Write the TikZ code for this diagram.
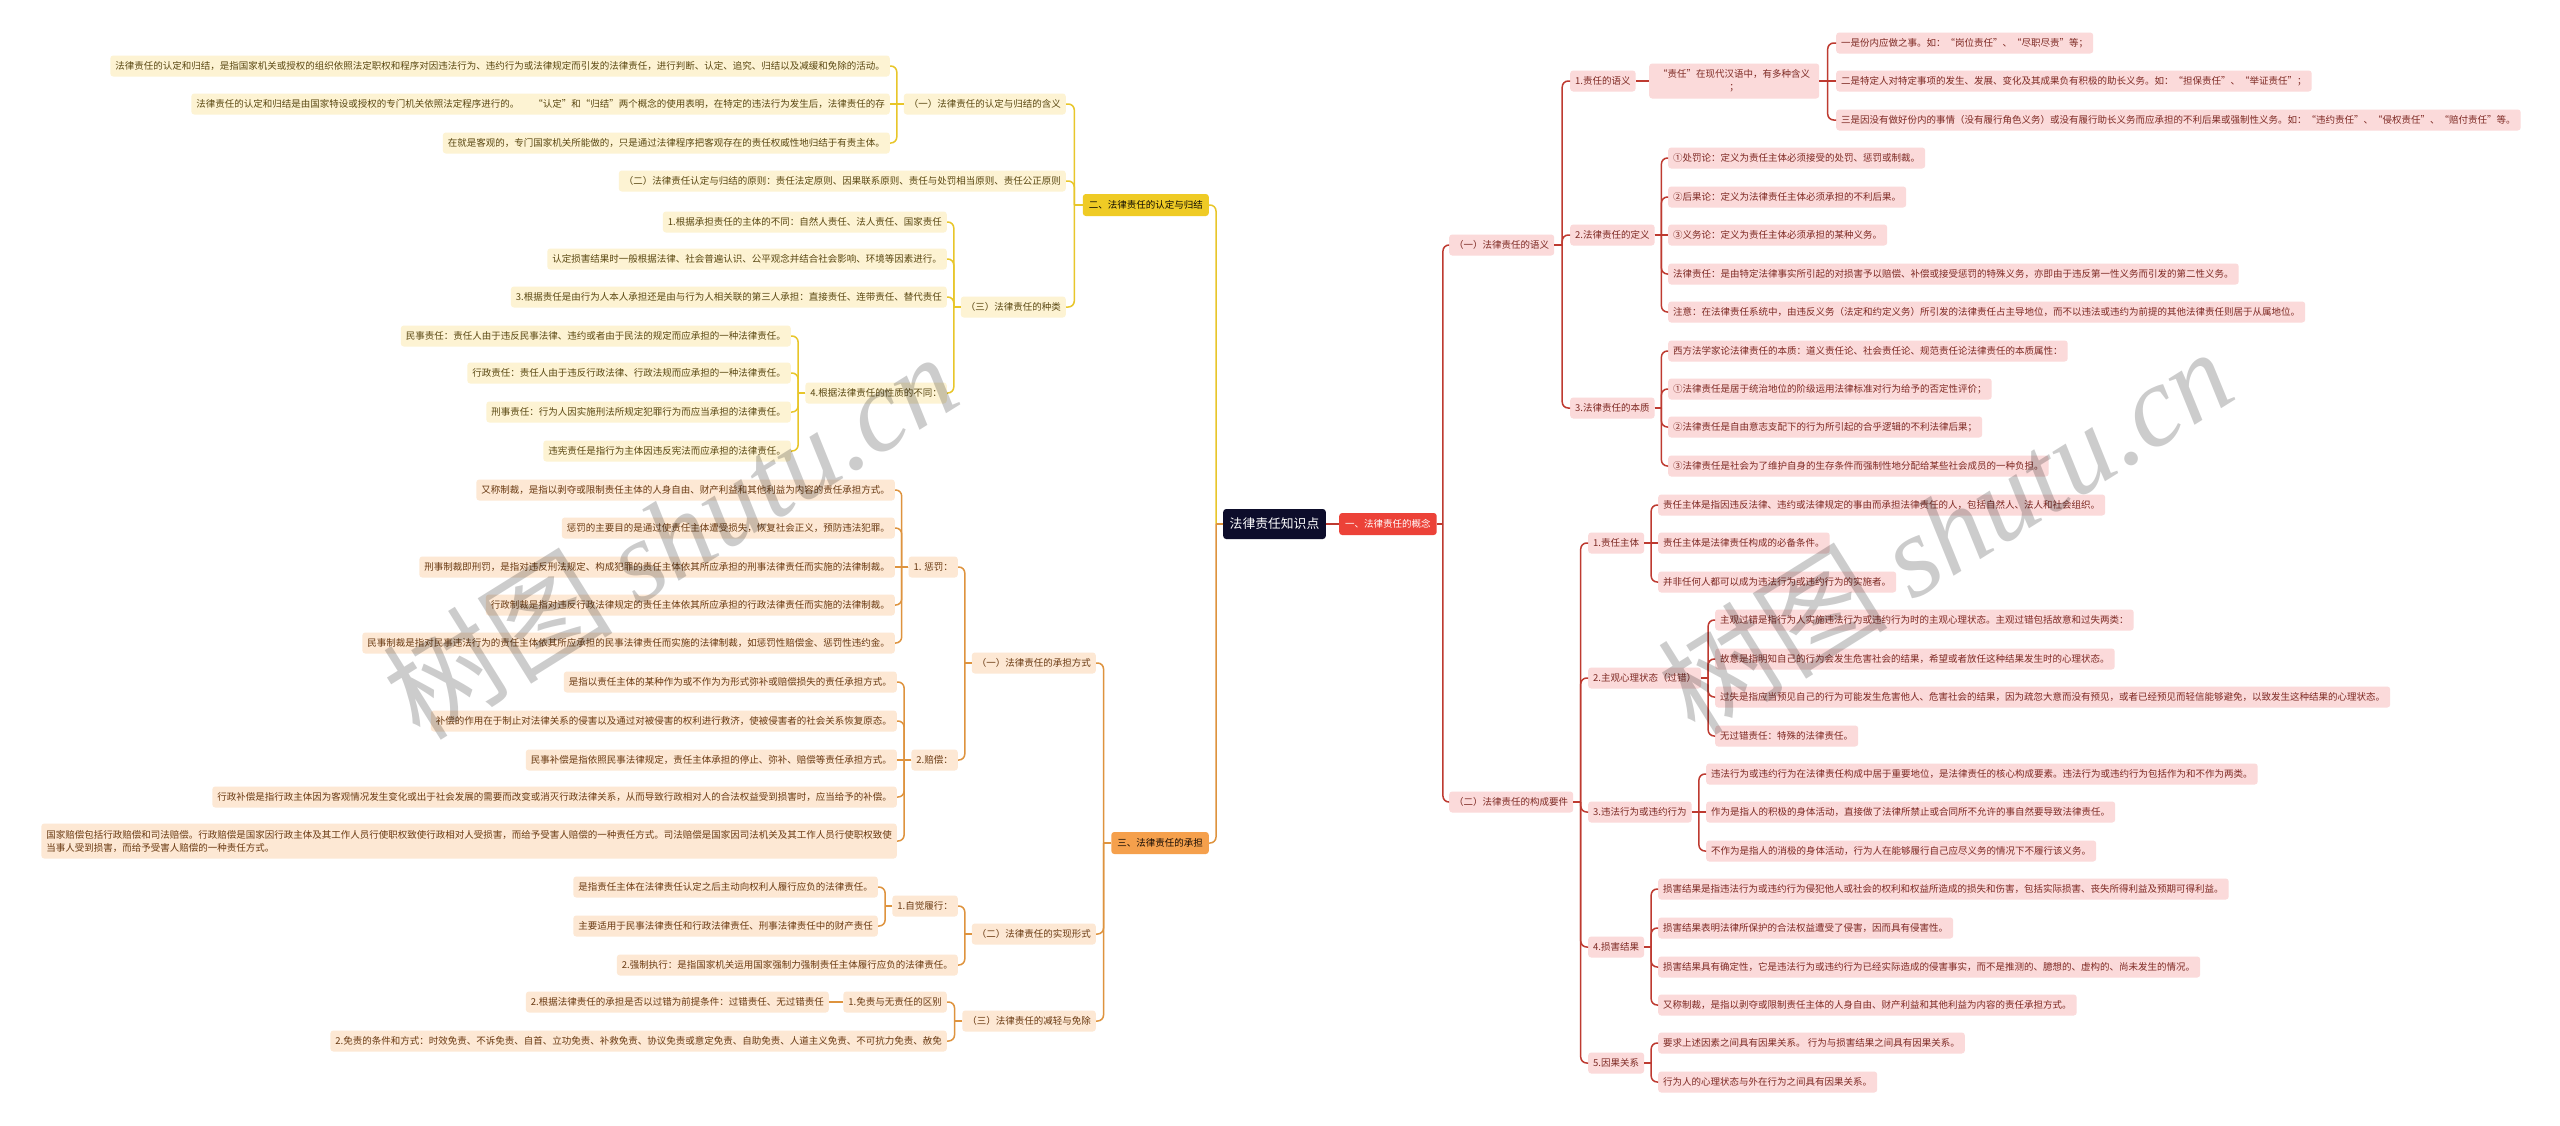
\documentclass[tikz,border=0pt]{standalone}
\usepackage{fontspec}
\newfontfamily\cjk{Noto Sans CJK SC}
\usetikzlibrary{calc}
\definecolor{rootc}{HTML}{0D0D2B}
\definecolor{redL}{HTML}{EC4238}
\definecolor{redF}{HTML}{FBDADA}
\definecolor{redT}{HTML}{7E2A24}
\definecolor{redC}{HTML}{BE3A30}
\definecolor{yelL}{HTML}{EFCB25}
\definecolor{yelF}{HTML}{FDF3D3}
\definecolor{yelT}{HTML}{5A4812}
\definecolor{yelC}{HTML}{E8C62A}
\definecolor{orgL}{HTML}{F5A04C}
\definecolor{orgF}{HTML}{FDE8D4}
\definecolor{orgT}{HTML}{6A3A12}
\definecolor{orgC}{HTML}{DE933E}
\newcommand\RL[3]{\path (#2.east) -- (#2.east -| #3.west) coordinate[pos=.5] (tt); \draw[#1] (#2.east) -- (tt); \draw[#1,rounded corners=6pt] (tt) |- (#3.west);}
\newcommand\LL[3]{\path (#2.west) -- (#2.west -| #3.east) coordinate[pos=.5] (tt); \draw[#1] (#2.west) -- (tt); \draw[#1,rounded corners=6pt] (tt) |- (#3.east);}
\newcommand\RS[3]{\draw[#1] (#2.east) -- (#3.west);}
\newcommand\LS[3]{\draw[#1] (#2.west) -- (#3.east);}
\begin{document}
\begin{tikzpicture}[x={(1pt,0pt)},y={(0pt,-1pt)},
 base/.style={rounded corners=3pt, inner xsep=5pt, inner ysep=0pt, minimum height=21pt, font=\cjk\fontsize{9.5}{13}\selectfont, text height=7.6pt, text depth=1.6pt},
 rb/.style={base, fill=redF, text=redT},
 yb/.style={base, fill=yelF, text=yelT},
 ob/.style={base, fill=orgF, text=orgT},
 R/.style={rb, anchor=west},
 Y/.style={yb, anchor=east},
 O/.style={ob, anchor=east},
 rc/.style={draw=redC, line width=1.5pt},
 yc/.style={draw=yelC, line width=1.5pt},
 oc/.style={draw=orgC, line width=1.5pt},
 lone/.style={rounded corners=3pt, inner xsep=6pt, inner ysep=0pt, minimum height=22pt, font=\cjk\fontsize{9.5}{13}\selectfont, text height=7.6pt, text depth=1.6pt},
 wm/.style={text=black, text opacity=0.2, font=\cjk\fontsize{115}{120}\selectfont, rotate=32}
]
\fill[white] (0,0) rectangle (2560,1125);
\useasboundingbox (0,0) rectangle (2560,1125);

% root and level 1
\node[rounded corners=3pt, fill=rootc, text=white, font=\cjk\fontsize{12.8}{15}\selectfont, minimum height=30pt, inner xsep=6.5pt, inner ysep=0pt] (root) at (1274.5,524) {法律责任知识点};
\node[lone, fill=redL, text=white, anchor=west] (n1) at (1339,524) {一、法律责任的概念};
\node[lone, fill=yelL, text=black!85!yelT, anchor=east] (n2) at (1209,205) {二、法律责任的认定与归结};
\node[lone, fill=orgL, text=black!80!orgT, anchor=east] (n3) at (1209,843) {三、法律责任的承担};

% ===== right side (red) =====
\node[R] (a1) at (1449,245) {（一）法律责任的语义};
\node[R] (a2) at (1449,802) {（二）法律责任的构成要件};

\node[R] (b1) at (1570,81) {1.责任的语义};
\node[R] (b2) at (1570,235) {2.法律责任的定义};
\node[R] (b3) at (1570,408) {3.法律责任的本质};

\node[R, align=center, inner xsep=9pt, inner ysep=4pt, text height=, text depth=, minimum height=35pt] (c0) at (1649,81) {“责任”在现代汉语中，有多种含义\\；};

\node[R] (d1) at (1836,43) {一是份内应做之事。如：“岗位责任”、“尽职尽责”等；};
\node[R] (d2) at (1836,81) {二是特定人对特定事项的发生、发展、变化及其成果负有积极的助长义务。如：“担保责任”、“举证责任”；};
\node[R] (d3) at (1836,120) {三是因没有做好份内的事情（没有履行角色义务）或没有履行助长义务而应承担的不利后果或强制性义务。如：“违约责任”、“侵权责任”、“赔付责任”等。};

\node[R] (e1) at (1668,158) {①处罚论：定义为责任主体必须接受的处罚、惩罚或制裁。};
\node[R] (e2) at (1668,197) {②后果论：定义为法律责任主体必须承担的不利后果。};
\node[R] (e3) at (1668,235) {③义务论：定义为责任主体必须承担的某种义务。};
\node[R] (e4) at (1668,274) {法律责任：是由特定法律事实所引起的对损害予以赔偿、补偿或接受惩罚的特殊义务，亦即由于违反第一性义务而引发的第二性义务。};
\node[R] (e5) at (1668,312) {注意：在法律责任系统中，由违反义务（法定和约定义务）所引发的法律责任占主导地位，而不以违法或违约为前提的其他法律责任则居于从属地位。};

\node[R] (f1) at (1668,351) {西方法学家论法律责任的本质：道义责任论、社会责任论、规范责任论法律责任的本质属性：};
\node[R] (f2) at (1668,389) {①法律责任是居于统治地位的阶级运用法律标准对行为给予的否定性评价；};
\node[R] (f3) at (1668,427) {②法律责任是自由意志支配下的行为所引起的合乎逻辑的不利法律后果；};
\node[R] (f4) at (1668,466) {③法律责任是社会为了维护自身的生存条件而强制性地分配给某些社会成员的一种负担。};

\node[R] (g1) at (1588,543) {1.责任主体};
\node[R] (g2) at (1588,678) {2.主观心理状态（过错）};
\node[R] (g3) at (1588,812) {3.违法行为或违约行为};
\node[R] (g4) at (1588,947) {4.损害结果};
\node[R] (g5) at (1588,1063) {5.因果关系};

\node[R] (h1) at (1658,505) {责任主体是指因违反法律、违约或法律规定的事由而承担法律责任的人，包括自然人、法人和社会组织。};
\node[R] (h2) at (1658,543) {责任主体是法律责任构成的必备条件。};
\node[R] (h3) at (1658,582) {并非任何人都可以成为违法行为或违约行为的实施者。};

\node[R] (i1) at (1715,620) {主观过错是指行为人实施违法行为或违约行为时的主观心理状态。主观过错包括故意和过失两类：};
\node[R] (i2) at (1715,659) {故意是指明知自己的行为会发生危害社会的结果，希望或者放任这种结果发生时的心理状态。};
\node[R] (i3) at (1715,697) {过失是指应当预见自己的行为可能发生危害他人、危害社会的结果，因为疏忽大意而没有预见，或者已经预见而轻信能够避免，以致发生这种结果的心理状态。};
\node[R] (i4) at (1715,736) {无过错责任：特殊的法律责任。};

\node[R] (j1) at (1706,774) {违法行为或违约行为在法律责任构成中居于重要地位，是法律责任的核心构成要素。违法行为或违约行为包括作为和不作为两类。};
\node[R] (j2) at (1706,812) {作为是指人的积极的身体活动，直接做了法律所禁止或合同所不允许的事自然要导致法律责任。};
\node[R] (j3) at (1706,851) {不作为是指人的消极的身体活动，行为人在能够履行自己应尽义务的情况下不履行该义务。};

\node[R] (k1) at (1658,889) {损害结果是指违法行为或违约行为侵犯他人或社会的权利和权益所造成的损失和伤害，包括实际损害、丧失所得利益及预期可得利益。};
\node[R] (k2) at (1658,928) {损害结果表明法律所保护的合法权益遭受了侵害，因而具有侵害性。};
\node[R] (k3) at (1658,967) {损害结果具有确定性，它是违法行为或违约行为已经实际造成的侵害事实，而不是推测的、臆想的、虚构的、尚未发生的情况。};
\node[R] (k4) at (1658,1005) {又称制裁，是指以剥夺或限制责任主体的人身自由、财产利益和其他利益为内容的责任承担方式。};

\node[R] (l1) at (1658,1043) {要求上述因素之间具有因果关系。 行为与损害结果之间具有因果关系。};
\node[R] (l2) at (1658,1082) {行为人的心理状态与外在行为之间具有因果关系。};

% ===== left top (yellow) =====
\node[Y] (p1) at (1066,104) {（一）法律责任的认定与归结的含义};
\node[Y] (p2) at (1066,181) {（二）法律责任认定与归结的原则：责任法定原则、因果联系原则、责任与处罚相当原则、责任公正原则};
\node[Y] (p3) at (1066,307) {（三）法律责任的种类};

\node[Y] (q1) at (890,66) {法律责任的认定和归结，是指国家机关或授权的组织依照法定职权和程序对因违法行为、违约行为或法律规定而引发的法律责任，进行判断、认定、追究、归结以及减缓和免除的活动。};
\node[Y] (q2) at (890,104) {法律责任的认定和归结是由国家特设或授权的专门机关依照法定程序进行的。\hspace{14pt}“认定”和“归结”两个概念的使用表明，在特定的违法行为发生后，法律责任的存};
\node[Y] (q3) at (890,143) {在就是客观的，专门国家机关所能做的，只是通过法律程序把客观存在的责任权威性地归结于有责主体。};

\node[Y] (r1) at (947,222) {1.根据承担责任的主体的不同：自然人责任、法人责任、国家责任};
\node[Y] (r2) at (947,259) {认定损害结果时一般根据法律、社会普遍认识、公平观念并结合社会影响、环境等因素进行。};
\node[Y] (r3) at (947,297) {3.根据责任是由行为人本人承担还是由与行为人相关联的第三人承担：直接责任、连带责任、替代责任};
\node[Y] (r4) at (947,393) {4.根据法律责任的性质的不同：};

\node[Y] (s1) at (791,336) {民事责任：责任人由于违反民事法律、违约或者由于民法的规定而应承担的一种法律责任。};
\node[Y] (s2) at (791,373) {行政责任：责任人由于违反行政法律、行政法规而应承担的一种法律责任。};
\node[Y] (s3) at (791,412) {刑事责任：行为人因实施刑法所规定犯罪行为而应当承担的法律责任。};
\node[Y] (s4) at (791,451) {违宪责任是指行为主体因违反宪法而应承担的法律责任。};

% ===== left bottom (orange) =====
\node[O] (t1) at (1096,663) {（一）法律责任的承担方式};
\node[O] (t2) at (1096,934) {（二）法律责任的实现形式};
\node[O] (t3) at (1096,1021) {（三）法律责任的减轻与免除};

\node[O] (u1) at (958,567) {1. 惩罚：};
\node[O] (u2) at (958,760) {2.赔偿：};

\node[O] (v1) at (895,490) {又称制裁，是指以剥夺或限制责任主体的人身自由、财产利益和其他利益为内容的责任承担方式。};
\node[O] (v2) at (895,528) {惩罚的主要目的是通过使责任主体遭受损失，恢复社会正义，预防违法犯罪。};
\node[O] (v3) at (895,567) {刑事制裁即刑罚，是指对违反刑法规定、构成犯罪的责任主体依其所应承担的刑事法律责任而实施的法律制裁。};
\node[O] (v4) at (895,605) {行政制裁是指对违反行政法律规定的责任主体依其所应承担的行政法律责任而实施的法律制裁。};
\node[O] (v5) at (895,643) {民事制裁是指对民事违法行为的责任主体依其所应承担的民事法律责任而实施的法律制裁，如惩罚性赔偿金、惩罚性违约金。};

\node[O] (w1) at (897,682) {是指以责任主体的某种作为或不作为为形式弥补或赔偿损失的责任承担方式。};
\node[O] (w2) at (897,721) {补偿的作用在于制止对法律关系的侵害以及通过对被侵害的权利进行救济，使被侵害者的社会关系恢复原态。};
\node[O] (w3) at (897,760) {民事补偿是指依照民事法律规定，责任主体承担的停止、弥补、赔偿等责任承担方式。};
\node[O] (w4) at (897,797) {行政补偿是指行政主体因为客观情况发生变化或出于社会发展的需要而改变或消灭行政法律关系，从而导致行政相对人的合法权益受到损害时，应当给予的补偿。};
\node[O, align=left, inner ysep=4pt, text height=, text depth=, minimum height=35pt] (w5) at (897,841) {国家赔偿包括行政赔偿和司法赔偿。行政赔偿是国家因行政主体及其工作人员行使职权致使行政相对人受损害，而给予受害人赔偿的一种责任方式。司法赔偿是国家因司法机关及其工作人员行使职权致使\\当事人受到损害，而给予受害人赔偿的一种责任方式。};

\node[O] (x1) at (958,906) {1.自觉履行：};
\node[O] (x2) at (958,965) {2.强制执行：是指国家机关运用国家强制力强制责任主体履行应负的法律责任。};

\node[O] (y1) at (878,887) {是指责任主体在法律责任认定之后主动向权利人履行应负的法律责任。};
\node[O] (y2) at (878,926) {主要适用于民事法律责任和行政法律责任、刑事法律责任中的财产责任};

\node[O] (z1) at (947,1002) {1.免责与无责任的区别};
\node[O] (z2) at (947,1041) {2.免责的条件和方式：时效免责、不诉免责、自首、立功免责、补救免责、协议免责或意定免责、自助免责、人道主义免责、不可抗力免责、赦免};
\node[O] (z3) at (829,1002) {2.根据法律责任的承担是否以过错为前提条件：过错责任、无过错责任};

% ===== connectors =====
\RS{rc}{root}{n1}
\LL{yc}{root}{n2}
\LL{oc}{root}{n3}

\RL{rc}{n1}{a1} \RL{rc}{n1}{a2}
\RL{rc}{a1}{b1} \RL{rc}{a1}{b2} \RL{rc}{a1}{b3}
\RS{rc}{b1}{c0}
\RL{rc}{c0}{d1} \RS{rc}{c0}{d2} \RL{rc}{c0}{d3}
\RL{rc}{b2}{e1} \RL{rc}{b2}{e2} \RS{rc}{b2}{e3} \RL{rc}{b2}{e4} \RL{rc}{b2}{e5}
\RL{rc}{b3}{f1} \RL{rc}{b3}{f2} \RL{rc}{b3}{f3} \RL{rc}{b3}{f4}
\RL{rc}{a2}{g1} \RL{rc}{a2}{g2} \RL{rc}{a2}{g3} \RL{rc}{a2}{g4} \RL{rc}{a2}{g5}
\RL{rc}{g1}{h1} \RS{rc}{g1}{h2} \RL{rc}{g1}{h3}
\RL{rc}{g2}{i1} \RL{rc}{g2}{i2} \RL{rc}{g2}{i3} \RL{rc}{g2}{i4}
\RL{rc}{g3}{j1} \RS{rc}{g3}{j2} \RL{rc}{g3}{j3}
\RL{rc}{g4}{k1} \RL{rc}{g4}{k2} \RL{rc}{g4}{k3} \RL{rc}{g4}{k4}
\RL{rc}{g5}{l1} \RL{rc}{g5}{l2}

\LL{yc}{n2}{p1} \LL{yc}{n2}{p2} \LL{yc}{n2}{p3}
\LL{yc}{p1}{q1} \LS{yc}{p1}{q2} \LL{yc}{p1}{q3}
\LL{yc}{p3}{r1} \LL{yc}{p3}{r2} \LL{yc}{p3}{r3} \LL{yc}{p3}{r4}
\LL{yc}{r4}{s1} \LL{yc}{r4}{s2} \LL{yc}{r4}{s3} \LL{yc}{r4}{s4}

\LL{oc}{n3}{t1} \LL{oc}{n3}{t2} \LL{oc}{n3}{t3}
\LL{oc}{t1}{u1} \LL{oc}{t1}{u2}
\LL{oc}{u1}{v1} \LL{oc}{u1}{v2} \LS{oc}{u1}{v3} \LL{oc}{u1}{v4} \LL{oc}{u1}{v5}
\LL{oc}{u2}{w1} \LL{oc}{u2}{w2} \LS{oc}{u2}{w3} \LL{oc}{u2}{w4} \LL{oc}{u2}{w5}
\LL{oc}{t2}{x1} \LL{oc}{t2}{x2}
\LL{oc}{x1}{y1} \LL{oc}{x1}{y2}
\LL{oc}{t3}{z1} \LL{oc}{t3}{z2}
\LS{oc}{z1}{z3}

% ===== watermarks =====
\node[wm] (wmL) at (670,535) {树图 {\fontspec{Liberation Serif}\itshape shutu.cn}};
\node[wm] (wmR) at (1945,530) {树图 {\fontspec{Liberation Serif}\itshape shutu.cn}};
\end{tikzpicture}
\end{document}
